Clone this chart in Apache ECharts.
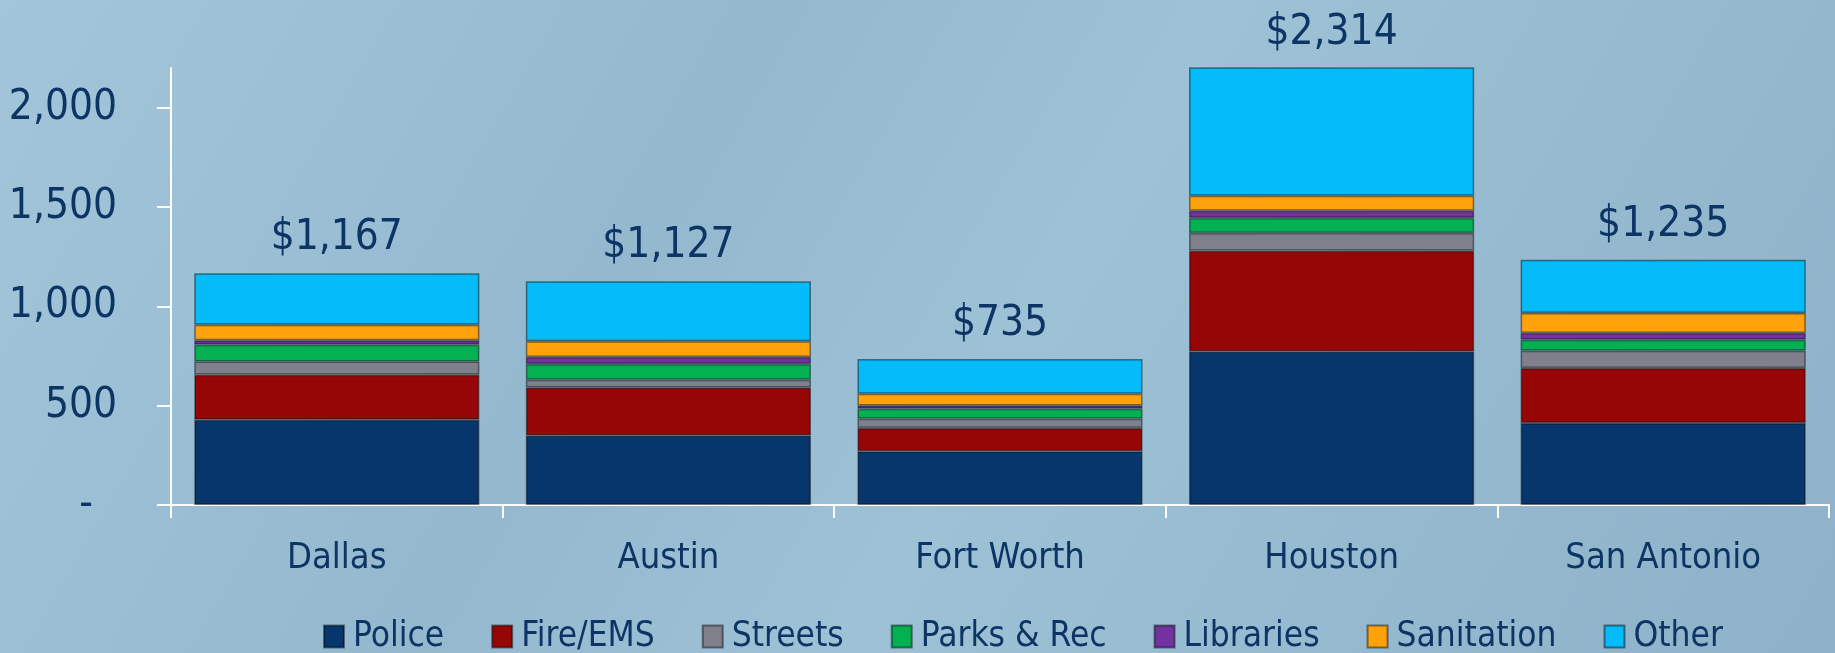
<!DOCTYPE html>
<html>
<head>
<meta charset="utf-8">
<script src="https://cdn.jsdelivr.net/npm/echarts@6/dist/echarts.min.js"></script>
<style>
  html, body { margin: 0; padding: 0; }
  #chart {
    width: 1835px;
    height: 653px;
    background: linear-gradient(120deg, #a2c5d9 0%, #94b9cf 35%, #9dc1d5 55%, #8db2c9 100%);
  }
</style>
</head>
<body>
<div id="chart"></div>
<script>
// city spending per capita, stacked by department
var cities = ['Dallas', 'Austin', 'Fort Worth', 'Houston', 'San Antonio'];
var police     = [429, 350, 270, 773, 413];
var fireEms    = [227, 242, 118, 507, 277];
var streets    = [67, 39, 46, 89, 87];
var parksRec   = [84, 79, 51, 76, 55];
var libraries  = [22, 35, 16, 36, 34];
var sanitation = [79, 79, 59, 76, 101];
var other      = [259, 303, 175, 757, 268];
var totals     = [1167, 1127, 735, 2314, 1235];
var yTicks     = [0, 500, 1000, 1500, 2000];
var yMax = 2200;

var font = '"DejaVu Sans Condensed", "DejaVu Sans", sans-serif';
var textColor = '#0c3566';

var chart = echarts.init(document.getElementById('chart'));

function stackSeries(name, data, color) {
  return {
    name: name,
    type: 'bar',
    stack: 'total',
    data: data,
    barCategoryGap: '14%',
    itemStyle: {
      color: color,
      borderColor: 'rgba(0,0,0,0.45)',
      borderWidth: 1.5
    }
  };
}

var option = {
  grid: { left: 171, right: 6, top: 68, bottom: 148 },
  legend: {
    data: ['Police', 'Fire/EMS', 'Streets', 'Parks & Rec', 'Libraries', 'Sanitation', 'Other'],
    left: 318,
    top: 614,
    icon: 'rect',
    itemWidth: 20,
    itemHeight: 22,
    itemGap: 47,
    textStyle: { fontFamily: font, fontSize: 35, color: textColor, padding: [0, 0, 0, 4] }
  },
  xAxis: {
    type: 'category',
    data: cities,
    axisLine: { lineStyle: { color: '#ffffff', width: 2 } },
    axisTick: { show: true, length: 13, lineStyle: { color: '#ffffff', width: 2 } },
    axisLabel: { fontFamily: font, fontSize: 36, color: textColor, margin: 36 }
  },
  yAxis: {
    type: 'value',
    min: 0,
    max: yMax,
    splitLine: { show: false },
    axisLine: { show: true, lineStyle: { color: '#ffffff', width: 2 } },
    axisTick: { show: true, length: 14, customValues: yTicks, lineStyle: { color: '#ffffff', width: 2 } },
    axisLabel: {
      customValues: yTicks,
      fontFamily: font,
      fontSize: 42,
      color: textColor,
      margin: 54,
      formatter: function (v) {
        return v === 0 ? '-  ' : v.toLocaleString('en-US');
      }
    }
  },
  series: [
    stackSeries('Police', police, '#06366c'),
    stackSeries('Fire/EMS', fireEms, '#970606'),
    stackSeries('Streets', streets, '#80808c'),
    stackSeries('Parks & Rec', parksRec, '#03b153'),
    stackSeries('Libraries', libraries, '#7232a0'),
    stackSeries('Sanitation', sanitation, '#ffa20c'),
    stackSeries('Other', other, '#05bbf9'),
    {
      name: 'Total',
      type: 'scatter',
      symbolSize: 0,
      silent: true,
      itemStyle: { opacity: 1 },
      data: totals.map(function (t) { return Math.min(t, yMax); }),
      label: {
        show: true,
        position: 'top',
        distance: 14,
        fontFamily: font,
        fontSize: 42,
        lineHeight: 42,
        color: textColor,
        opacity: 1,
        formatter: function (p) { return '$' + totals[p.dataIndex].toLocaleString('en-US'); }
      }
    }
  ]
};

chart.setOption(option);
</script>
</body>
</html>
